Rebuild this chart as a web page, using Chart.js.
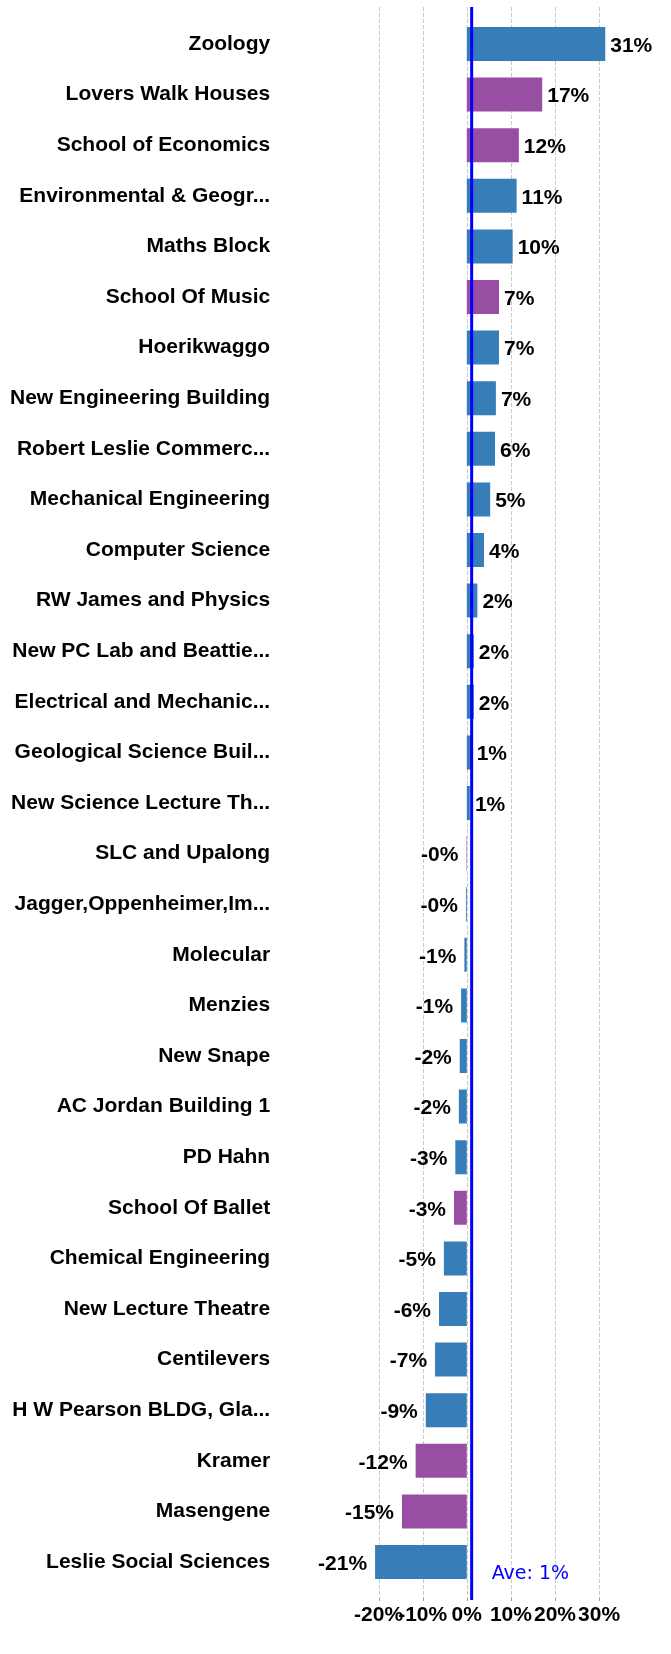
<!DOCTYPE html>
<html>
<head>
<meta charset="utf-8">
<script src="https://cdn.jsdelivr.net/npm/chart.js@4.4.1/dist/chart.umd.min.js"></script>
<style>
  html, body { margin: 0; padding: 0; background: #fff; }
</style>
</head>
<body>
<canvas id="chart" width="671" height="1654"></canvas>
<script>
// buildings, sorted by change (%)
const buildings = [
  'Zoology', 'Lovers Walk Houses', 'School of Economics', 'Environmental & Geogr...',
  'Maths Block', 'School Of Music', 'Hoerikwaggo', 'New Engineering Building',
  'Robert Leslie Commerc...', 'Mechanical Engineering', 'Computer Science',
  'RW James and Physics', 'New PC Lab and Beattie...', 'Electrical and Mechanic...',
  'Geological Science Buil...', 'New Science Lecture Th...', 'SLC and Upalong',
  'Jagger,Oppenheimer,Im...', 'Molecular', 'Menzies', 'New Snape', 'AC Jordan Building 1',
  'PD Hahn', 'School Of Ballet', 'Chemical Engineering', 'New Lecture Theatre',
  'Centilevers', 'H W Pearson BLDG, Gla...', 'Kramer', 'Masengene', 'Leslie Social Sciences'
];
const changes = [
  31.4, 17.1, 11.8, 11.3, 10.4, 7.3, 7.3, 6.6, 6.4, 5.3, 3.9, 2.4, 1.6, 1.6, 1.1, 0.7,
  -0.1, -0.2, -0.55, -1.3, -1.6, -1.8, -2.6, -2.9, -5.2, -6.3, -7.2, -9.3, -11.6, -14.7, -20.8
];
// buildings drawn in the second colour
const purpleGroup = [
  'Lovers Walk Houses', 'School of Economics', 'School Of Music', 'SLC and Upalong',
  'School Of Ballet', 'Kramer', 'Masengene'
];
const average = 1.1;
const xTicks = [-20, -10, 0, 10, 20, 30];

const BLUE = '#377eb8';
const PURPLE = '#984ea3';
const labelFont = { family: '"Liberation Sans", Arial, sans-serif', weight: 'bold', size: 21 };

const extras = {
  id: 'extras',
  beforeDatasetsDraw(chart) {
    // dashed grid, running a bit past the plot area like the original
    const { ctx, scales: { x } } = chart;
    ctx.save();
    ctx.strokeStyle = '#c8c8c8';
    ctx.lineWidth = 1;
    ctx.setLineDash([4, 2]);
    xTicks.forEach(v => {
      const px = Math.round(x.getPixelForValue(v)) + 0.5;
      ctx.beginPath();
      ctx.moveTo(px, 7);
      ctx.lineTo(px, 1598);
      ctx.stroke();
    });
    ctx.setLineDash([]);
    ctx.strokeStyle = '#ff8c00';
    xTicks.forEach(v => {
      const px = Math.round(x.getPixelForValue(v)) + 0.5;
      ctx.beginPath();
      ctx.moveTo(px, 1598);
      ctx.lineTo(px, 1601);
      ctx.stroke();
    });
    ctx.restore();
  },
  afterDatasetsDraw(chart) {
    const { ctx, scales: { x } } = chart;
    const meta = chart.getDatasetMeta(0);
    ctx.save();
    // average line
    const ax = x.getPixelForValue(average);
    ctx.strokeStyle = '#0000ff';
    ctx.lineWidth = 3;
    ctx.beginPath();
    ctx.moveTo(ax, 7);
    ctx.lineTo(ax, 1600);
    ctx.stroke();
    ctx.fillStyle = '#0000ff';
    ctx.font = '19px "DejaVu Sans", Verdana, sans-serif';
    ctx.textBaseline = 'middle';
    ctx.textAlign = 'left';
    ctx.fillText('Ave: ' + average.toFixed(0) + '%', ax + 20, 1574);
    // value labels
    ctx.fillStyle = '#000';
    ctx.font = 'bold 21px "Liberation Sans", Arial, sans-serif';
    meta.data.forEach((bar, i) => {
      const v = changes[i];
      const txt = v.toFixed(0) + '%';
      if (v >= 0) {
        ctx.textAlign = 'left';
        ctx.fillText(txt, bar.x + 5, bar.y + 2);
      } else {
        ctx.textAlign = 'right';
        ctx.fillText(txt, bar.x - 8, bar.y + 2);
      }
    });
    ctx.restore();
  }
};

new Chart(document.getElementById('chart'), {
  type: 'bar',
  data: {
    labels: buildings,
    datasets: [{
      data: changes,
      backgroundColor: buildings.map(b => purpleGroup.includes(b) ? PURPLE : BLUE),
      borderWidth: 0,
      barPercentage: 0.672,
      categoryPercentage: 1
    }]
  },
  options: {
    indexAxis: 'y',
    responsive: false,
    animation: false,
    layout: { padding: { top: 18.7, right: 63.1, bottom: 0, left: 0 } },
    plugins: { legend: { display: false }, tooltip: { enabled: false } },
    scales: {
      x: {
        min: -21,
        max: 32,
        afterFit: s => { s.height = 66.7; s.paddingLeft = 0; s.paddingRight = 0; },
        afterBuildTicks: s => { s.ticks = xTicks.map(v => ({ value: v })); },
        border: { display: false },
        grid: { display: false, drawTicks: false },
        ticks: {
          autoSkip: false,
          maxRotation: 0,
          padding: 15,
          color: '#000',
          font: labelFont,
          callback: v => v + '%'
        }
      },
      y: {
        // the wide tick padding would otherwise push the chart area down
        afterFit: s => { s.width = 374.2; s.paddingTop = 0; s.paddingBottom = 0; },
        border: { display: false },
        grid: { display: false, drawTicks: false },
        ticks: {
          autoSkip: false,
          padding: 104,
          color: '#000',
          font: labelFont
        }
      }
    }
  },
  plugins: [extras]
});
</script>
</body>
</html>
